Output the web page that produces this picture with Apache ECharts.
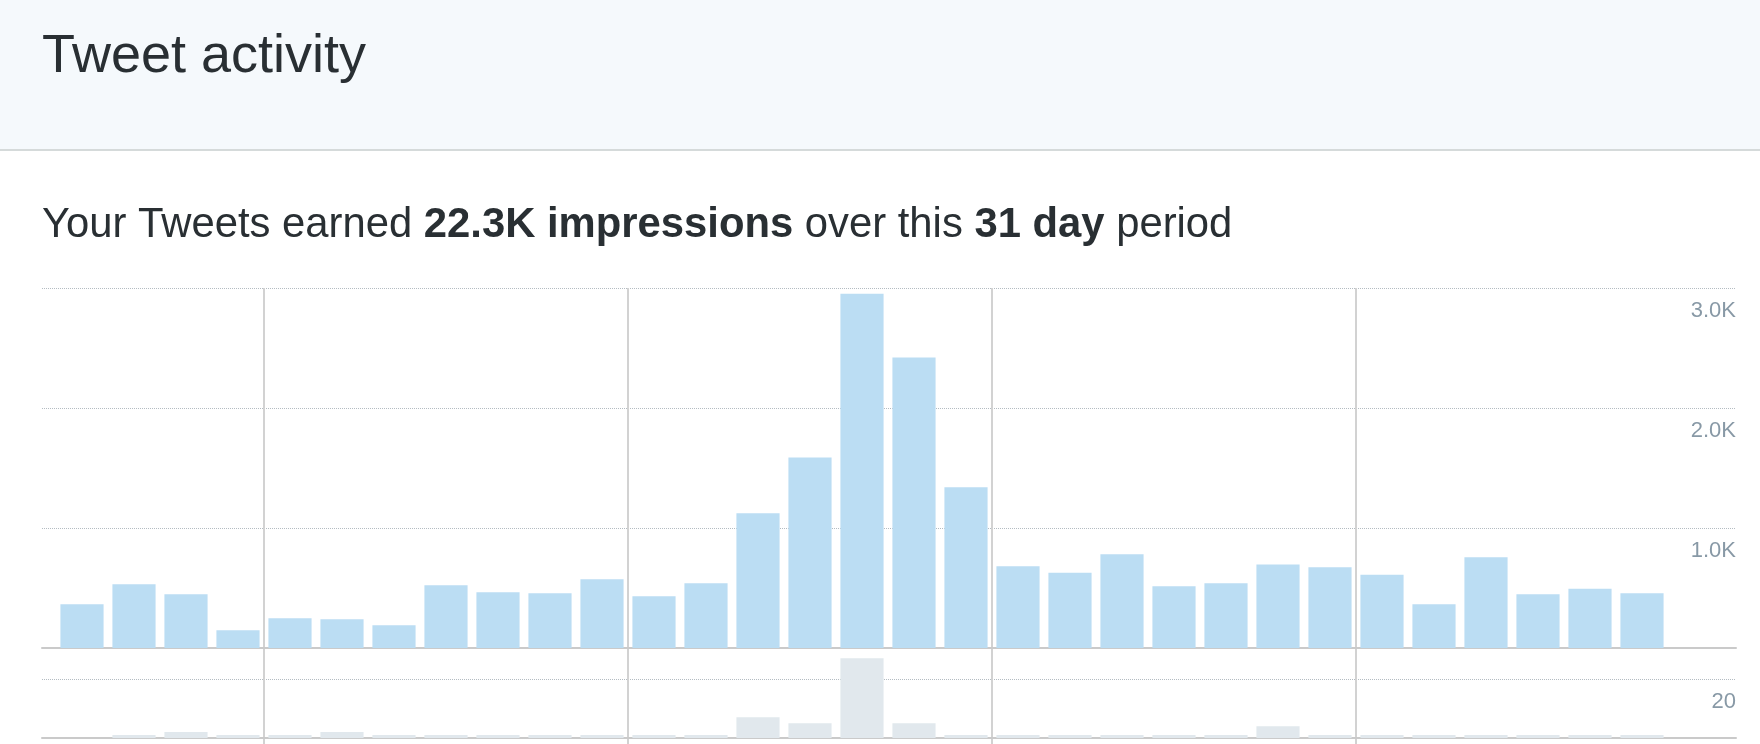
<!DOCTYPE html>
<html>
<head>
<meta charset="utf-8">
<script src="https://cdn.jsdelivr.net/npm/echarts@6/dist/echarts.min.js"></script>
<style>
html, body { margin: 0; padding: 0; background: #ffffff; }
#chart { width: 1760px; height: 744px; }
</style>
</head>
<body>
<div id="chart"></div>
<script>
// ---- data ----
const days = ['1','2','3','4','5','6','7','8','9','10','11','12','13','14','15','16',
              '17','18','19','20','21','22','23','24','25','26','27','28','29','30','31'];
const impressions = [364, 531, 447, 147, 247, 239, 189, 522, 464, 456, 572, 431, 539, 1123, 1587,
                     2953, 2420, 1339, 681, 628, 781, 514, 539, 695, 672, 611, 364, 756, 447, 494, 456];
const engagements = [0, 1, 2, 1, 1, 2, 1, 1, 1, 1, 1, 1, 1, 7, 5,
                     27, 5, 1, 1, 1, 1, 1, 1, 4, 1, 1, 1, 1, 1, 1, 1];
const impressionAxis = { min: 0, max: 3000, interval: 1000 };   // labels 1.0K, 2.0K, 3.0K
const engagementAxis = { min: 0, max: 30, interval: 20 };       // label 20
const weekStartIndex = 4;   // weekly separator lines before day index 4, 11, 18, 25
const titleText = 'Tweet activity';
const totalImpressions = '22.3K';
const periodDays = '31';

// ---- styles ----
const FONT = 'Liberation Sans, Helvetica, Arial, sans-serif';
const TEXT_DARK = '#292f33';
const LABEL_GRAY = '#8899a6';
const DOT_COLOR = '#b4bcc2';
const AXIS_GRAY = '#cacaca';
const VLINE_GRAY = '#d2d2d2';

const chart = echarts.init(document.getElementById('chart'), null, { renderer: 'canvas' });

const kFormatter = v => (v / 1000).toFixed(1) + 'K';

const hiddenAxisBits = {
  axisLine: { show: false }, axisTick: { show: false },
  axisLabel: { show: false }, splitLine: { show: false }
};

const option = {
  animation: false,
  backgroundColor: '#ffffff',
  graphic: [
    { type: 'rect', z: -5, shape: { x: 0, y: 0, width: 1760, height: 149 }, style: { fill: '#f5f9fc' } },
    { type: 'rect', z: -4, shape: { x: 0, y: 149, width: 1760, height: 2 }, style: { fill: '#d5dada' } }
  ],
  title: [
    {
      text: titleText, left: 42, top: 30, padding: 0,
      textStyle: { fontFamily: FONT, fontSize: 54, fontWeight: 'normal', color: TEXT_DARK }
    },
    {
      text: '{r|Your Tweets earned }{b|' + totalImpressions + ' impressions}{r| over this }{b|' + periodDays + ' day}{r| period}',
      left: 42, top: 204, padding: 0,
      textStyle: {
        fontFamily: FONT, fontSize: 41.8, color: TEXT_DARK,
        rich: {
          r: { fontFamily: FONT, fontSize: 41.8, color: TEXT_DARK, fontWeight: 'normal' },
          b: { fontFamily: FONT, fontSize: 41.8, color: TEXT_DARK, fontWeight: 'bold' }
        }
      }
    }
  ],
  grid: [
    { left: 42, right: 24, top: 288, height: 360 },      // 0: impressions gridlines
    { left: 56, right: 92, top: 288, height: 360 },      // 1: impressions bars
    { left: 42, right: 24, top: 649.5, height: 88.5 },   // 2: engagements gridlines
    { left: 56, right: 92, top: 649.5, height: 88.5 },   // 3: engagements bars
    { left: 56, right: 92, top: 288, bottom: 0 }         // 4: weekly separators
  ],
  xAxis: [
    { gridIndex: 0, type: 'value', min: 0, max: 1,
      axisLine: { show: true, onZero: false, lineStyle: { color: AXIS_GRAY, width: 2 } },
      axisTick: { show: false }, axisLabel: { show: false }, splitLine: { show: false } },
    Object.assign({ gridIndex: 1, type: 'category', data: days }, hiddenAxisBits),
    { gridIndex: 2, type: 'value', min: 0, max: 1,
      axisLine: { show: true, onZero: false, lineStyle: { color: AXIS_GRAY, width: 2 } },
      axisTick: { show: false }, axisLabel: { show: false }, splitLine: { show: false } },
    Object.assign({ gridIndex: 3, type: 'category', data: days }, hiddenAxisBits),
    { gridIndex: 4, type: 'category', data: days, boundaryGap: true,
      axisLine: { show: false }, axisTick: { show: false }, axisLabel: { show: false },
      splitLine: { show: true, showMinLine: true, showMaxLine: false,
                   interval: (i) => i % 7 === weekStartIndex,
                   lineStyle: { color: VLINE_GRAY, width: 2 } } }
  ],
  yAxis: [
    { gridIndex: 0, type: 'value', position: 'right',
      min: impressionAxis.min, max: impressionAxis.max, interval: impressionAxis.interval,
      axisLine: { show: false }, axisTick: { show: false },
      axisLabel: { inside: true, margin: 0, formatter: kFormatter, showMinLabel: false,
                   verticalAlign: 'top', padding: [12, 0, 0, 0],
                   fontFamily: FONT, fontSize: 22, color: LABEL_GRAY },
      splitLine: { show: true, showMinLine: false,
                   lineStyle: { type: 'dotted', color: DOT_COLOR, width: 1 } } },
    Object.assign({ gridIndex: 1, type: 'value', min: impressionAxis.min, max: impressionAxis.max }, hiddenAxisBits),
    { gridIndex: 2, type: 'value', position: 'right',
      min: engagementAxis.min, max: engagementAxis.max, interval: engagementAxis.interval,
      axisLine: { show: false }, axisTick: { show: false },
      axisLabel: { inside: true, margin: 0, showMinLabel: false, showMaxLabel: false,
                   verticalAlign: 'top', padding: [12, 0, 0, 0],
                   fontFamily: FONT, fontSize: 22, color: LABEL_GRAY },
      splitLine: { show: true, showMinLine: false, showMaxLine: false,
                   lineStyle: { type: 'dotted', color: DOT_COLOR, width: 1 } } },
    Object.assign({ gridIndex: 3, type: 'value', min: engagementAxis.min, max: engagementAxis.max }, hiddenAxisBits),
    Object.assign({ gridIndex: 4, type: 'value', min: 0, max: 1 }, hiddenAxisBits)
  ],
  series: [
    { name: 'Impressions', type: 'bar', xAxisIndex: 1, yAxisIndex: 1, data: impressions,
      barCategoryGap: '17%', itemStyle: { color: '#bbddf3' }, silent: true },
    { name: 'Engagements', type: 'bar', xAxisIndex: 3, yAxisIndex: 3, data: engagements,
      barCategoryGap: '17%', itemStyle: { color: '#e1e8ed' }, silent: true }
  ]
};

chart.setOption(option);
</script>
</body>
</html>
